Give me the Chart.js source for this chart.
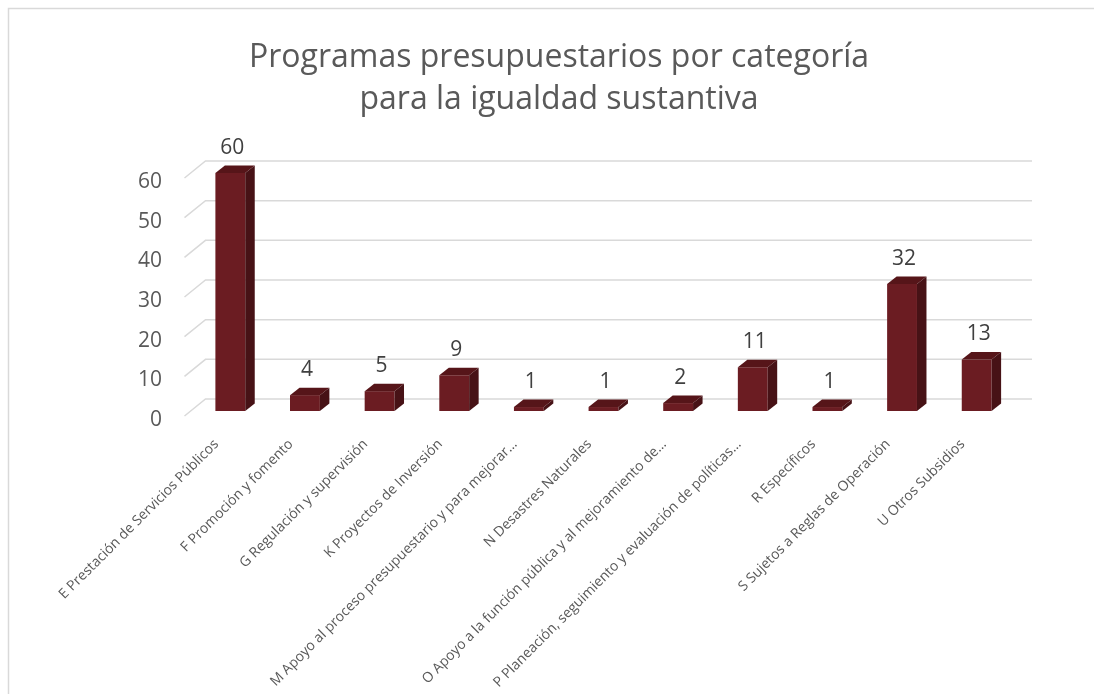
<!DOCTYPE html>
<html>
<head>
<meta charset="utf-8">
<script src="https://cdn.jsdelivr.net/npm/chart.js@4.4.0/dist/chart.umd.min.js"></script>
<style>
  html, body { margin: 0; padding: 0; background: #fff; }
  #wrap { width: 1094px; height: 694px; position: relative; }
</style>
</head>
<body>
<div id="wrap"><canvas id="chart"></canvas></div>
<script>
// Chart data
const titleLines = ['Programas presupuestarios por categoría', 'para la igualdad sustantiva'];
const categories = [
    'E Prestación de Servicios Públicos',
    'F Promoción y fomento',
    'G Regulación y supervisión',
    'K Proyectos de Inversión',
    'M Apoyo al proceso presupuestario y para mejorar…',
    'N Desastres Naturales',
    'O Apoyo a la función pública y al mejoramiento de…',
    'P Planeación, seguimiento y evaluación de políticas…',
    'R Específicos',
    'S Sujetos a Reglas de Operación',
    'U Otros Subsidios'
];
const values = [60, 4, 5, 9, 1, 1, 2, 11, 1, 32, 13];
const yMin = 0;
const yMax = 60;
const yStep = 10;

// Colours
const colors = {
    front: '#6b1c22',
    side: '#471216',
    top: '#561519',
    grid: '#d9d9d9',
    text: '#595959',
    label: '#404040',
    frame: '#d9d9d9'
};

// Depth of the fake 3D look
const depth = { dx: 9.5, dy: 7.5 };

// Frame + back wall gridlines
const wallPlugin = {
    id: 'wall',
    beforeDraw(chart) {
        const ctx = chart.ctx;
        ctx.save();
        ctx.strokeStyle = colors.frame;
        ctx.lineWidth = 1.5;
        ctx.beginPath();
        ctx.moveTo(8.5, chart.height);
        ctx.lineTo(8.5, 8.5);
        ctx.lineTo(chart.width, 8.5);
        ctx.stroke();
        ctx.restore();
    },
    beforeDatasetsDraw(chart) {
        const ctx = chart.ctx;
        const area = chart.chartArea;
        const y = chart.scales.y;
        ctx.save();
        ctx.strokeStyle = colors.grid;
        ctx.lineWidth = 1.5;
        y.ticks.forEach(t => {
            const py = y.getPixelForValue(t.value);
            ctx.beginPath();
            ctx.moveTo(area.left - 8.5, py + 5);
            ctx.lineTo(area.left + 12.5, py - 12);
            ctx.lineTo(area.right + 18, py - 12);
            ctx.stroke();
        });
        ctx.restore();
    }
};

// Side and top faces of every bar, plus value labels
const barPlugin = {
    id: 'bars3d',
    afterDatasetsDraw(chart) {
        const ctx = chart.ctx;
        const meta = chart.getDatasetMeta(0);
        ctx.save();
        meta.data.forEach((bar, i) => {
            const w = bar.width;
            const l = bar.x - w / 2;
            const r = bar.x + w / 2;
            const top = bar.y;
            const base = bar.base;

            ctx.fillStyle = colors.top;
            ctx.beginPath();
            ctx.moveTo(l, top);
            ctx.lineTo(r, top);
            ctx.lineTo(r + depth.dx, top - depth.dy);
            ctx.lineTo(l + depth.dx, top - depth.dy);
            ctx.closePath();
            ctx.fill();

            ctx.fillStyle = colors.side;
            ctx.beginPath();
            ctx.moveTo(r, top);
            ctx.lineTo(r + depth.dx, top - depth.dy);
            ctx.lineTo(r + depth.dx, base - depth.dy);
            ctx.lineTo(r, base);
            ctx.closePath();
            ctx.fill();

            ctx.fillStyle = colors.label;
            ctx.font = '21px "Open Sans"';
            ctx.textAlign = 'center';
            ctx.textBaseline = 'middle';
            ctx.fillText(String(values[i]), bar.x + 2, top - 25);
        });
        ctx.restore();
    }
};

new Chart(document.getElementById('chart'), {
    type: 'bar',
    data: {
        labels: categories,
        datasets: [{
            data: values,
            backgroundColor: colors.front,
            borderWidth: 0,
            barPercentage: 0.4,
            categoryPercentage: 1
        }]
    },
    options: {
        responsive: true,
        maintainAspectRatio: false,
        animation: false,
        layout: {
            padding: { left: 104, right: 80, top: 0, bottom: 0 }
        },
        plugins: {
            legend: { display: false },
            tooltip: { enabled: false },
            title: {
                display: true,
                text: titleLines,
                color: colors.text,
                font: { family: 'Open Sans', size: 32, weight: 'normal', lineHeight: 1.3125 },
                padding: { top: 37, bottom: 52 }
            }
        },
        scales: {
            x: {
                grid: { display: false, drawTicks: false },
                border: { display: false },
                ticks: {
                    color: colors.text,
                    font: { family: 'Open Sans', size: 14 },
                    minRotation: 45,
                    maxRotation: 45,
                    autoSkip: false,
                    padding: 25,
                    labelOffset: -14
                },
                afterFit(scale) { scale.height = 283; }
            },
            y: {
                min: yMin,
                max: yMax,
                grid: { display: false, drawTicks: false },
                border: { display: false },
                ticks: {
                    stepSize: yStep,
                    color: colors.text,
                    font: { family: 'Open Sans', size: 21 },
                    padding: 31,
                    labelOffset: 9
                },
                afterFit(scale) { scale.width = 89; }
            }
        }
    },
    plugins: [wallPlugin, barPlugin]
});
</script>
</body>
</html>
